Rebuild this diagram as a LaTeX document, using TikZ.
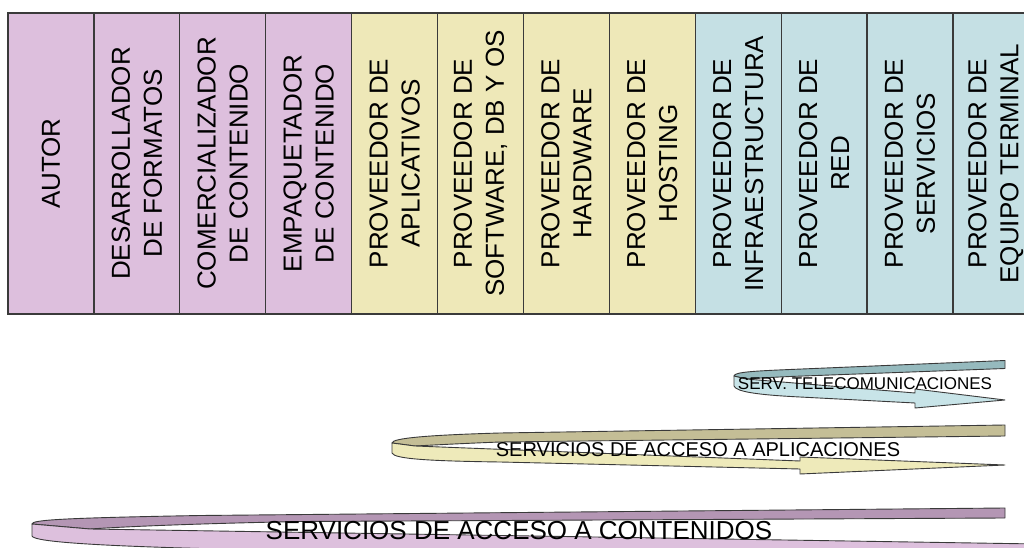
\documentclass[tikz,border=0pt]{standalone}
\usepackage{fontspec}
\setmainfont{Liberation Sans}
\definecolor{cpurple}{RGB}{221,191,221}
\definecolor{cyellow}{RGB}{238,232,184}
\definecolor{cblue}{RGB}{197,224,228}
\definecolor{edge}{RGB}{58,58,58}
\definecolor{tealback}{RGB}{150,186,190}
\definecolor{tealfront}{RGB}{200,228,232}
\definecolor{yelback}{RGB}{196,190,150}
\definecolor{yelfront}{RGB}{238,234,186}
\definecolor{purback}{RGB}{180,150,180}
\definecolor{purfront}{RGB}{221,192,221}
\tikzset{
  colbox/.style={draw=edge, line width=1.2bp, rotate=90, minimum width=301bp,
    minimum height=85.9bp, inner sep=0pt, align=center,
    font=\fontsize{26bp}{32bp}\selectfont},
  ribbon/.style={draw=edge, line width=0.9bp, line join=round},
  rlabel/.style={inner sep=0pt, text=black}
}
\begin{document}
\begin{tikzpicture}[x=1bp,y=-1bp]
\useasboundingbox (0,0) rectangle (1024,548);
\clip (0,0) rectangle (1024,548);
\fill[white] (0,0) rectangle (1024,548);
% columns
\node[colbox, fill=cpurple] (c1) at (50.95,163.5) {AUTOR};
\node[colbox, fill=cpurple] (c2) at (136.85,163.5) {DESARROLLADOR\\DE FORMATOS};
\node[colbox, fill=cpurple] (c3) at (222.75,163.5) {COMERCIALIZADOR\\DE CONTENIDO};
\node[colbox, fill=cpurple] (c4) at (308.65,163.5) {EMPAQUETADOR\\DE CONTENIDO};
\node[colbox, fill=cyellow] (c5) at (394.55,163.5) {PROVEEDOR DE\\APLICATIVOS};
\node[colbox, fill=cyellow] (c6) at (480.45,163.5) {PROVEEDOR DE\\SOFTWARE, DB Y OS};
\node[colbox, fill=cyellow] (c7) at (566.35,163.5) {PROVEEDOR DE\\HARDWARE};
\node[colbox, fill=cyellow] (c8) at (652.25,163.5) {PROVEEDOR DE\\HOSTING};
\node[colbox, fill=cblue] (c9) at (738.15,163.5) {PROVEEDOR DE\\INFRAESTRUCTURA};
\node[colbox, fill=cblue] (c10) at (824.05,163.5) {PROVEEDOR DE\\RED};
\node[colbox, fill=cblue] (c11) at (909.95,163.5) {PROVEEDOR DE\\SERVICIOS};
\node[colbox, fill=cblue] (c12) at (995.85,163.5) {PROVEEDOR DE\\EQUIPO TERMINAL};
% ribbon 1 (teal)
\draw[ribbon, fill=tealback] (734,376) .. controls (734,372) and (755,371) .. (790,369.5)
  -- (1005,360.5) -- (1005,368.5) -- (790,376.5) .. controls (768,377.5) and (752,378.5) .. (746,379) -- cycle;
\draw[ribbon, fill=tealfront] (734,376) -- (734,386) .. controls (736,392) and (760,395) .. (800,397)
  -- (915,403) -- (915,408) -- (1005,400) -- (915,389) -- (915,393) -- (746,379) -- cycle;
% ribbon 2 (yellow)
\draw[ribbon, fill=yelback] (392,443) .. controls (392,438) and (430,435) .. (500,433)
  -- (1005,425) -- (1005,436) -- (500,442) .. controls (450,444) and (425,445.5) .. (415,446) -- cycle;
\draw[ribbon, fill=yelfront] (392,443) -- (392,453) .. controls (394,459) and (430,461) .. (500,462)
  -- (800,469) -- (800,474) -- (1005,465) -- (800,457) -- (800,461) -- (415,446) -- cycle;
% ribbon 3 (purple)
\draw[ribbon, fill=purback] (32,524) .. controls (32,520) and (60,518) .. (200,515.5)
  -- (1005,508) -- (1005,518) -- (300,521.5) .. controls (180,524) and (120,527) .. (90,529) -- cycle;
\draw[ribbon, fill=purfront] (32,524) -- (32,536) .. controls (34,542) and (100,546) .. (220,549)
  -- (400,553) -- (1050,560) -- (1050,544.2) -- (90,529) -- cycle;
% ribbon labels
\node[rlabel, font=\fontsize{17bp}{20bp}\selectfont] (t1) at (865,384) {SERV. TELECOMUNICACIONES};
\node[rlabel, font=\fontsize{20bp}{24bp}\selectfont] (t2) at (698,449.5) {SERVICIOS DE ACCESO A APLICACIONES};
\node[rlabel, font=\fontsize{26bp}{30bp}\selectfont] (t3) at (519,530.5) {SERVICIOS DE ACCESO A CONTENIDOS};
\end{tikzpicture}
\end{document}
